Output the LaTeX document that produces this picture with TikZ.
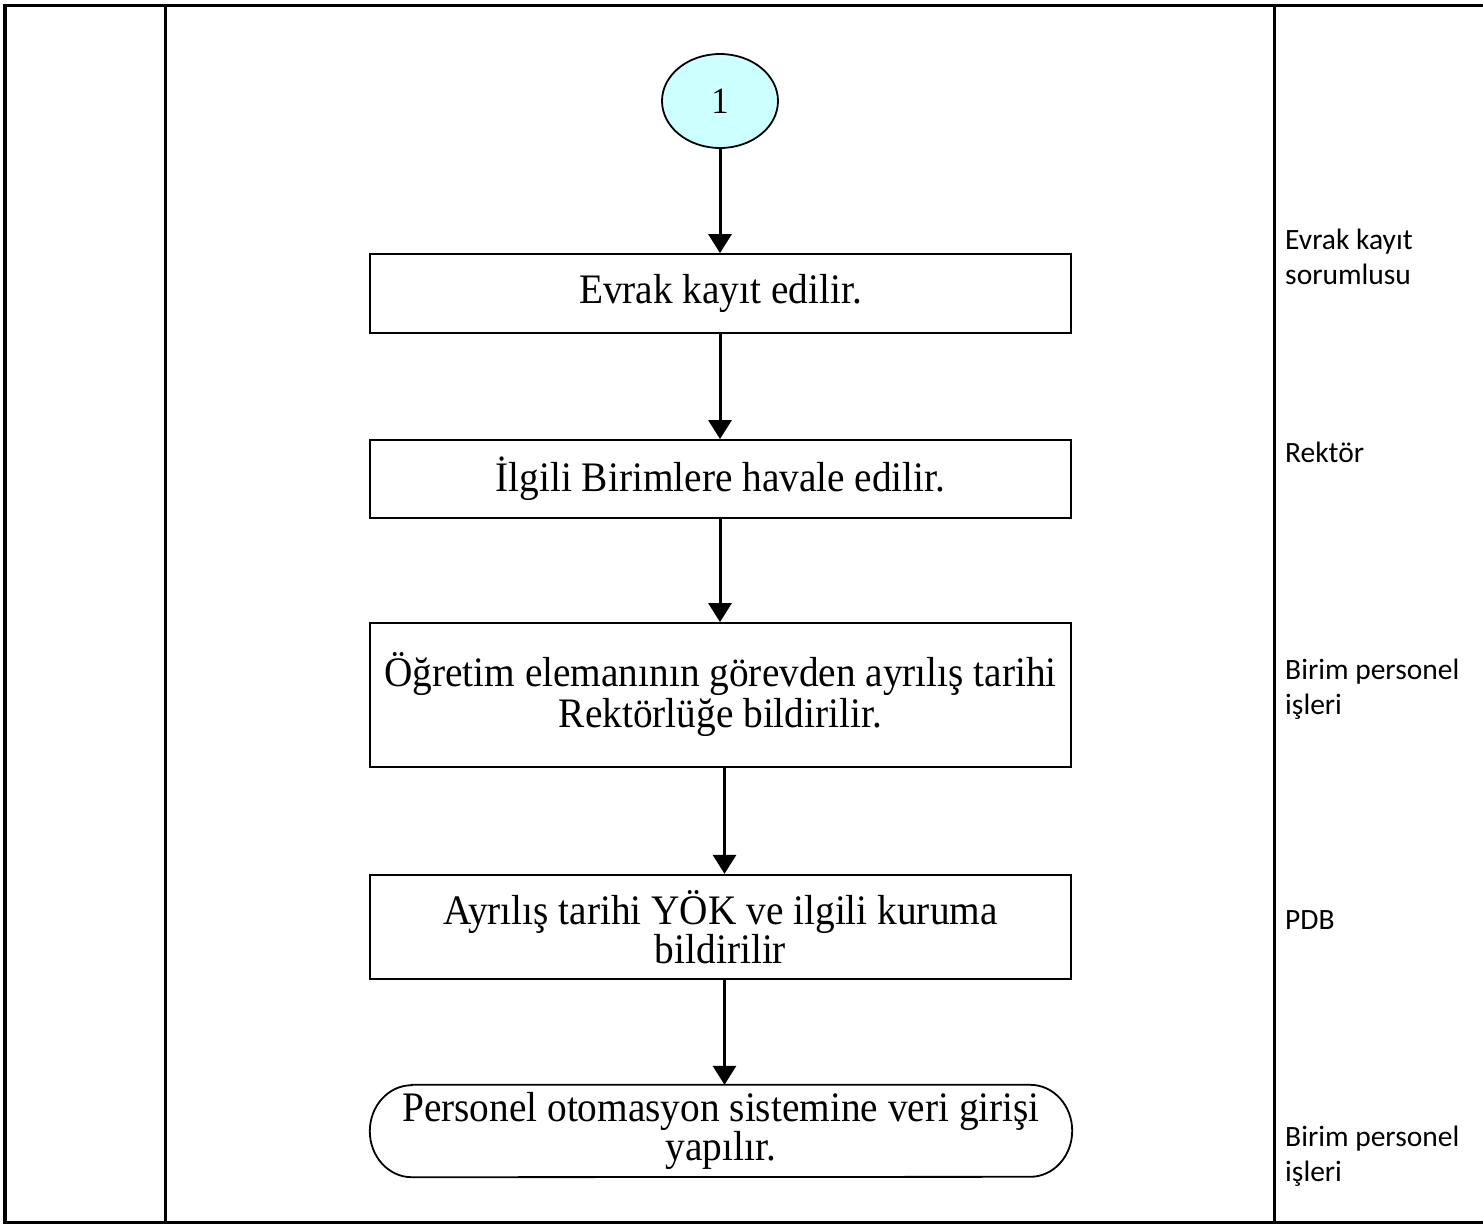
\documentclass[tikz,border=0pt]{standalone}
\usepackage{fontspec}
\setmainfont{Liberation Serif}
\newfontfamily\stepfont[FakeStretch=0.936]{Liberation Serif}
\newfontfamily\lanefont{Carlito}
\usetikzlibrary{arrows.meta,shapes.geometric,calc}
\definecolor{startfill}{RGB}{204,255,255}
\begin{document}
\begin{tikzpicture}[x=1pt,y=1pt,
  frameline/.style={line width=3.5pt},
  stepbox/.style={draw, line width=1.8pt, minimum width=701pt, inner sep=0pt,
    align=center, font=\stepfont\fontsize{42}{41}\selectfont},
  connector/.style={draw, line width=1.8pt, shape=ellipse, fill=startfill,
    minimum width=116pt, minimum height=94pt, inner sep=0pt,
    font=\stepfont\fontsize{37}{40}\selectfont},
  flow/.style={line width=3pt, -{Triangle[width=23pt,length=19pt]}},
  lane/.style={anchor=base west, inner sep=0pt, align=left,
    font=\lanefont\fontsize{29.5}{35}\selectfont}]
\useasboundingbox (0,0) rectangle (1483,-1227);

% table frame
\draw[frameline] (1483,-5.3) -- (5,-5.3) -- (5,-1222.5) -- (1483,-1222.5);
\draw[frameline] (165.3,-5.3) -- (165.3,-1222.5);
\draw[frameline] (1274.5,-5.3) -- (1274.5,-1222.5);

% process steps
\node[connector] (start) at (720,-101) {1};
\node[stepbox, minimum height=79pt] (b1) at (720.5,-293.5) {Evrak kayıt edilir.};
\node[stepbox, minimum height=78pt] (b2) at (720.5,-479) {İlgili Birimlere havale edilir.};
\node[stepbox, minimum height=144pt] (b3) at (720.5,-695) {Öğretim elemanının görevden ayrılış tarihi\\Rektörlüğe bildirilir.};
\node[stepbox, minimum height=104.5pt, font=\stepfont\fontsize{42}{38}\selectfont] (b4) at (720.5,-927) {Ayrılış tarihi YÖK ve ilgili kuruma\\bildirilir};
\node[minimum width=702pt, minimum height=92pt, inner sep=0pt, align=center,
  font=\stepfont\fontsize{42}{36}\selectfont] (term) at (721,-1131) {Personel otomasyon sistemine veri girişi\\yapılır.};
\draw[line width=1.8pt]
  ($(term.north west)+(42,0)$) -- ($(term.north east)+(-42,0)$)
  arc[start angle=90, end angle=-90, x radius=42, y radius=46]
  -- ($(term.south west)+(42,0)$)
  arc[start angle=270, end angle=90, x radius=42, y radius=46] -- cycle;

% connectors
\draw[flow] (start.south) -- (start.south |- b1.north);
\draw[flow] ($(b1.south)+(-0.5,0)$) -- ($(b2.north)+(-0.5,0)$);
\draw[flow] ($(b2.south)+(-0.5,0)$) -- ($(b3.north)+(-0.5,0)$);
\draw[flow] ($(b3.south)+(4,0)$) -- ($(b4.north)+(4,0)$);
\draw[flow] ($(b4.south)+(4,0)$) -- ($(term.north)+(3.5,0)$);

% responsible units (base anchor sits on the last line)
\node[lane] (r1) at (1285,-284) {Evrak kayıt\\sorumlusu};
\node[lane] (r2) at (1285,-462) {Rektör};
\node[lane] (r3) at (1285,-714) {Birim personel\\işleri};
\node[lane] (r4) at (1285,-929) {PDB};
\node[lane] (r5) at (1285,-1181) {Birim personel\\işleri};
\end{tikzpicture}
\end{document}
